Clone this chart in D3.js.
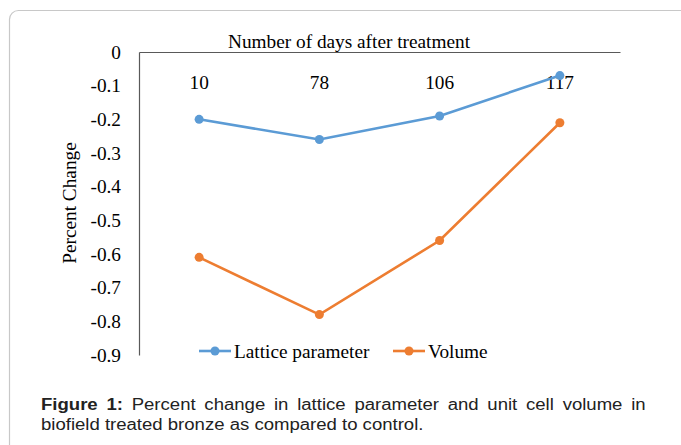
<!DOCTYPE html>
<html><head><meta charset="utf-8">
<script src="https://cdn.jsdelivr.net/npm/d3@7"></script>
<style>html,body{margin:0;padding:0;background:#fff;overflow:hidden}</style>
</head><body>
<svg id="c" width="681" height="445"></svg>
<script>
const categories = ["10", "78", "106", "117"];
const latticeValues = [-0.20, -0.26, -0.19, -0.07];
const volumeValues = [-0.61, -0.78, -0.56, -0.21];
const yTicks = [0, -0.1, -0.2, -0.3, -0.4, -0.5, -0.6, -0.7, -0.8, -0.9];
const seriesNames = ["Lattice parameter", "Volume"];
const seriesColors = ["#5B9BD5", "#ED7D31"];

const svg = d3.select("#c");
// frame
svg.append("rect").attr("x", 9.5).attr("y", 10.5).attr("width", 700).attr("height", 460)
  .attr("rx", 9).attr("fill", "none").attr("stroke", "#c8c8c8").attr("stroke-width", 1.2);

const pL = 139, pR = 620, pT = 52, pB = 355;
const x = d3.scaleBand().domain(categories).range([pL, pR]);
const y = d3.scaleLinear().domain([0, -0.9]).range([pT, pB]);
const serif = "'Liberation Serif','Times New Roman',serif";
const fs = 19.3;

// y axis
const ya = svg.append("g").attr("transform", `translate(${pL},0)`)
  .call(d3.axisLeft(y).tickValues(yTicks).tickSize(0).tickPadding(18)
    .tickFormat(d => d === 0 ? "0" : "-" + Math.abs(d).toFixed(1)));
ya.select(".domain").attr("stroke", "#595959").attr("stroke-width", 1.2);
ya.selectAll("text").attr("font-family", serif).attr("font-size", fs).attr("fill", "#000");

// top x axis
const xa = svg.append("g").attr("transform", `translate(0,${pT})`)
  .call(d3.axisTop(x).tickSize(0).tickPadding(-37));
xa.select(".domain").attr("stroke", "#595959").attr("stroke-width", 1.2);
xa.selectAll("text").attr("font-family", serif).attr("font-size", fs).attr("fill", "#000");

svg.append("text").attr("x", 349).attr("y", 48).attr("text-anchor", "middle")
  .attr("font-family", serif).attr("font-size", fs).text("Number of days after treatment");
svg.append("text").attr("transform", "translate(76,203) rotate(-90)").attr("text-anchor", "middle")
  .attr("font-family", serif).attr("font-size", fs).text("Percent Change");

const series = [latticeValues, volumeValues];
const line = d3.line().x((d, i) => x(categories[i]) + x.bandwidth() / 2).y(d => y(d));
series.forEach((vals, s) => {
  svg.append("path").datum(vals).attr("d", line).attr("fill", "none")
    .attr("stroke", seriesColors[s]).attr("stroke-width", 2.6);
  svg.selectAll(null).data(vals).enter().append("circle")
    .attr("cx", (d, i) => x(categories[i]) + x.bandwidth() / 2).attr("cy", d => y(d))
    .attr("r", 4.5).attr("fill", seriesColors[s]);
});

// legend
const legX = [199, 393];
seriesNames.forEach((n, s) => {
  const g = svg.append("g");
  g.append("line").attr("x1", legX[s]).attr("x2", legX[s] + 32).attr("y1", 351).attr("y2", 351)
    .attr("stroke", seriesColors[s]).attr("stroke-width", 2.6);
  g.append("circle").attr("cx", legX[s] + 16).attr("cy", 351).attr("r", 4.5).attr("fill", seriesColors[s]);
  g.append("text").attr("x", legX[s] + 35).attr("y", 358).attr("font-family", serif).attr("font-size", fs).text(n);
});

// caption (slightly wide glyphs, first line justified)
const sans = "'Liberation Sans',Arial,sans-serif";
const sx = 1.16;
const capG = svg.append("g").attr("transform", `translate(41,0) scale(${sx},1)`);
const t1 = capG.append("text").attr("font-family", sans).attr("font-size", 16).attr("fill", "#222")
  .attr("x", 0).attr("y", 410);
t1.append("tspan").attr("font-weight", "bold").text("Figure 1:");
t1.append("tspan").text(" Percent change in lattice parameter and unit cell volume in");
const nat = t1.node().getComputedTextLength();
const target = 601 / sx;
const spaces = 10;
t1.attr("word-spacing", (target - nat) / spaces);
capG.append("text").attr("font-family", sans).attr("font-size", 16).attr("fill", "#222")
  .attr("x", 0).attr("y", 430).text("biofield treated bronze as compared to control.");
</script>
</body></html>
